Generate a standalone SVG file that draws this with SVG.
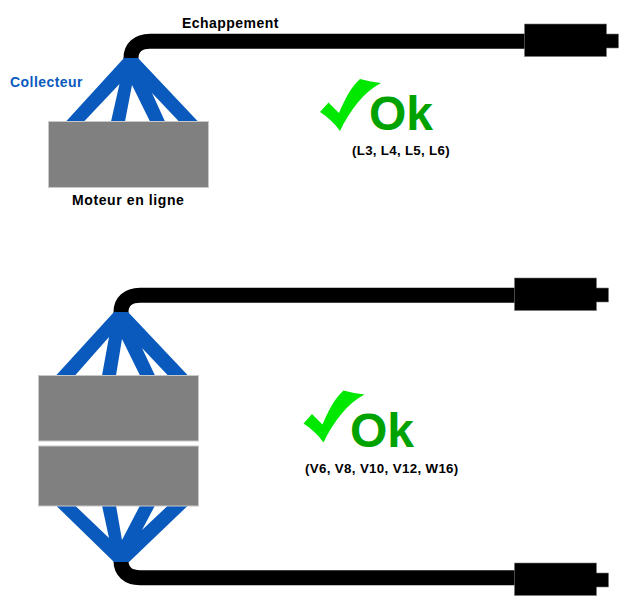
<svg xmlns="http://www.w3.org/2000/svg" width="640" height="603" viewBox="0 0 640 603">
<style>
text{font-family:"Liberation Sans",Arial,sans-serif;font-weight:bold}
.lbl{font-size:14px;fill:#000;letter-spacing:.45px}
.small{font-size:13.3px;fill:#000;letter-spacing:.3px}
.ok{font-size:48px;fill:#00a200}
.blue{fill:#0a5abe}
.eng{fill:#808080;stroke:#c8c8c8;stroke-width:1}
.pipe{fill:none;stroke:#000;stroke-width:15}
.muf{fill:#000;stroke:#777;stroke-width:.6}
.chk{fill:#00e800}
</style>
<defs>
<path id="check" d="M320 112L328.500 102.500L339 113C345 99 351 87 360 79C367 81 374 82 381 83C364 92 350 110 340 131C334 123 328 117 320 112Z"/>
<path id="muffler" d="M0 10H0V0H82V10H94V24H82V32.500H0V24Z"/>
</defs>
<g id="connectors">
<path class="pipe" d="M131 60V58C131 48 138 41.300 150 41.300H526"/>
<path class="pipe" d="M121 314V312C121 302 128 295.300 140 295.300H516"/>
<path class="pipe" d="M121 560V561C121 571 128 577.700 140 577.700H516"/>
</g>
<g id="manifold-top"><path class="blue" d="M124 58H138L198 121.500H179L152 93L165 121.500H150L132 85L125 121.500H111L119.500 84L84 121.500H66Z"/></g>
<g id="manifold-mid"><path class="blue" d="M114 312H128L188 375.500H168L142 348L155 375.500H140L122 339L116 375.500H102L109 337L75 375.500H56Z"/></g>
<g id="manifold-bottom"><path class="blue" d="M114 562H129L188 505.500H168L142 530L155 505.500H140L122 540L116 505.500H102L109 538L75 505.500H56Z"/></g>
<g id="engine-inline"><rect class="eng" x="48.500" y="121.500" width="160" height="66"/></g>
<g id="engine-v-top"><rect class="eng" x="38.500" y="375.500" width="160" height="65.500"/></g>
<g id="engine-v-bottom"><rect class="eng" x="38.500" y="446" width="160" height="60"/></g>
<g id="muffler-top"><use href="#muffler" class="muf" x="524.500" y="24"/></g>
<g id="muffler-mid"><use href="#muffler" class="muf" x="514.500" y="278"/></g>
<g id="muffler-bottom"><use href="#muffler" class="muf" x="514.500" y="563"/></g>
<g id="label-echappement"><text class="lbl" x="182" y="28">Echappement</text></g>
<g id="label-collecteur"><text class="lbl" x="10" y="87" style="fill:#0a5abe">Collecteur</text></g>
<g id="label-moteur"><text class="lbl" x="72" y="205" style="letter-spacing:.6px">Moteur en ligne</text></g>
<g id="ok-top"><use href="#check" class="chk"/><text class="ok" x="369" y="130">Ok</text><text class="small" x="352" y="155">(L3, L4, L5, L6)</text></g>
<g id="ok-bottom"><use href="#check" class="chk" x="-16.500" y="311.500"/><text class="ok" x="350" y="447">Ok</text><text class="small" x="305" y="473" style="letter-spacing:.35px">(V6, V8, V10, V12, W16)</text></g>
</svg>
